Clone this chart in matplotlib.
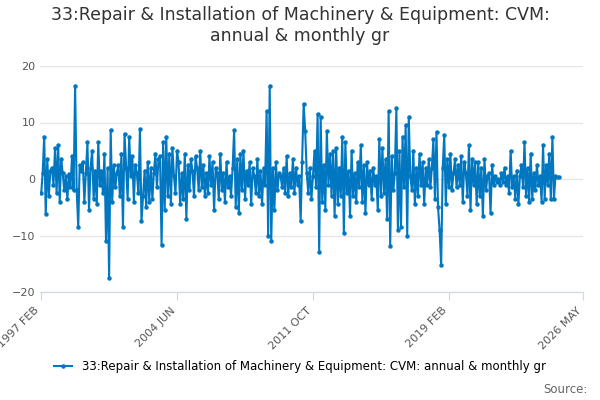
import matplotlib
matplotlib.use("Agg")
import matplotlib.pyplot as plt
import pandas as pd

values = [
 -2.5, 1.0, 7.5, -6.2, 3.5, -3.0, 1.5, 2.0, -1.0, 5.5, -2.5, 6.0,
 -4.0, 3.5, 1.0, -2.0, 0.5, -3.5, 0.8, -1.5, 4.0, -2.0, 16.5, -2.0,
 -8.5, 2.5, 1.5, 3.0, -4.0, 1.0, 6.5, -5.5, 2.0, 5.0, -3.5, 1.5,
 -4.5, 6.5, -1.0, 1.5, -2.5, 4.5, -11.0, 2.0, -17.5, 8.7, -4.0, 2.5,
 -1.5, 1.0, 2.5, -3.0, 4.5, -8.5, 8.0, 2.0, -3.5, 7.5, 0.5, 4.0,
 -4.0, 2.5, 1.0, -2.5, 8.8, -7.5, -3.0, 1.5, -5.0, 3.0, -4.0, 2.0,
 -3.5, 1.0, 4.5, -1.5, 3.5, 4.0, -11.7, 6.5, -5.5, 7.5, -3.0, 4.5,
 -4.5, 5.5, 0.5, -2.5, 5.0, 3.0, -4.5, 1.0, -3.5, 4.5, -7.0, 2.5,
 -2.0, 3.5, 1.5, -3.0, 4.0, 2.0, -2.0, 5.0, -1.5, 2.5, -3.0, 1.0,
 -2.5, 4.0, -1.0, 3.0, -5.5, 2.0, 1.0, -3.5, 4.5, -2.0, 1.0, -4.0,
 3.0, -1.5, 0.5, -3.0, 2.0, 8.7, -5.0, 3.5, -6.0, 4.5, -2.0, 5.0,
 -3.5, 1.5, -1.0, 3.0, -4.5, 2.0, 0.5, -2.5, 3.5, -3.0, 1.5, -4.5,
 2.0, -1.0, 12.0, -10.0, 16.5, -11.0, 2.0, -5.5, 3.0, -2.0, 1.0, 0.5,
 -1.5, 2.0, -2.5, 4.0, -3.0, 1.0, -1.5, 3.5, -2.5, 2.0, -1.0, 0.5,
 -7.5, 3.0, 13.3, 8.5, 1.0, -2.5, 2.0, -3.5, 0.5, 5.0, -1.5, 11.5,
 -13.0, 11.0, -4.0, 2.5, -5.5, 8.5, -1.0, 4.5, -3.0, 5.0, -6.5, 5.5,
 -4.5, 2.0, -3.0, 7.5, -9.5, 6.5, -2.5, 1.5, -6.5, 5.0, -3.0, 1.0,
 -4.0, 3.0, -1.5, 6.0, -4.0, 2.5, -6.0, 3.0, -1.0, 1.5, -3.5, 2.0,
 -1.0, 0.5, -5.5, 7.0, -3.0, 5.5, -2.5, 3.5, -7.0, 12.0, -11.8, 4.0,
 -2.0, 1.0, 12.5, -9.0, 5.0, -8.5, 7.5, -1.5, 9.5, -10.0, 11.0, 0.5,
 -2.0, 5.0, -4.5, 2.0, -3.0, 4.5, -1.0, 3.0, -4.5, 2.0, -1.0, 3.5,
 -1.5, 2.0, 7.0, -3.5, 8.3, -5.0, -9.0, -15.3, 2.0, 7.8, -4.5, 3.5,
 -1.5, 4.5, -2.0, 1.0, 3.5, -1.5, 2.5, -1.0, 4.0, -4.0, 3.0, 1.0,
 -3.0, 6.0, -5.5, 3.5, -1.0, 3.0, -4.5, 3.0, -3.0, 2.0, -6.5, 3.5,
 -2.0, 0.5, 1.0, -6.0, 2.5, -1.0, 0.5, -0.5, 0.0, -1.0, 1.0, -0.5,
 2.0, -1.0, 0.5, -2.5, 5.0, -1.5, 0.5, -3.5, 1.5, -4.5, 0.5, 2.5,
 -1.5, 6.5, -3.0, 2.0, -4.0, 4.5, -3.5, 1.0, -2.0, 2.5, -1.0, 0.5,
 -4.0, 6.0, -3.5, 2.5, -1.0, 4.5, -3.5, 7.5, -3.5, 0.5, 0.3, 0.3,
]
values = values[:352]
dates = pd.date_range("1997-02-01", periods=len(values), freq="MS")

tick_dates = [pd.Timestamp(d) for d in ["1997-02-01", "2004-06-01", "2011-10-01", "2019-02-01", "2026-05-01"]]
tick_labels = ["1997 FEB", "2004 JUN", "2011 OCT", "2019 FEB", "2026 MAY"]
yticks = [-20, -10, 0, 10, 20]

fig = plt.figure(figsize=(6, 4), dpi=100)
ax = fig.add_axes([0.067, 0.27, 0.905, 0.565])
color = "#0077c0"
ax.plot(dates, values, color=color, lw=1.5, marker="o", ms=2.2, label="33:Repair & Installation of Machinery & Equipment: CVM: annual & monthly gr")
ax.set_ylim(-20, 20)
ax.set_xlim(dates[0] - pd.Timedelta(days=20), dates[-1] + pd.Timedelta(days=20))
ax.set_yticks(yticks)
ax.set_xticks(tick_dates)
ax.set_xticklabels(tick_labels, rotation=45, ha="right", fontsize=8, color="#555555")
ax.tick_params(axis="y", length=0, labelsize=8, labelcolor="#555555")
ax.tick_params(axis="x", length=6, color="#ccd6eb")
ax.grid(axis="y", color="#e6e6e6", lw=1)
for s in ["top", "right", "left"]:
    ax.spines[s].set_visible(False)
ax.spines["bottom"].set_color("#ccd6eb")
fig.suptitle("33:Repair & Installation of Machinery & Equipment: CVM:\nannual & monthly gr", fontsize=12.5, color="#333333", y=0.985)
fig.legend(loc="lower center", bbox_to_anchor=(0.5, 0.04), frameon=False, fontsize=8.5, handlelength=1.5)
fig.text(0.98, 0.01, "Source:", ha="right", va="bottom", fontsize=8.5, color="#666666")
fig.savefig("out.png")
